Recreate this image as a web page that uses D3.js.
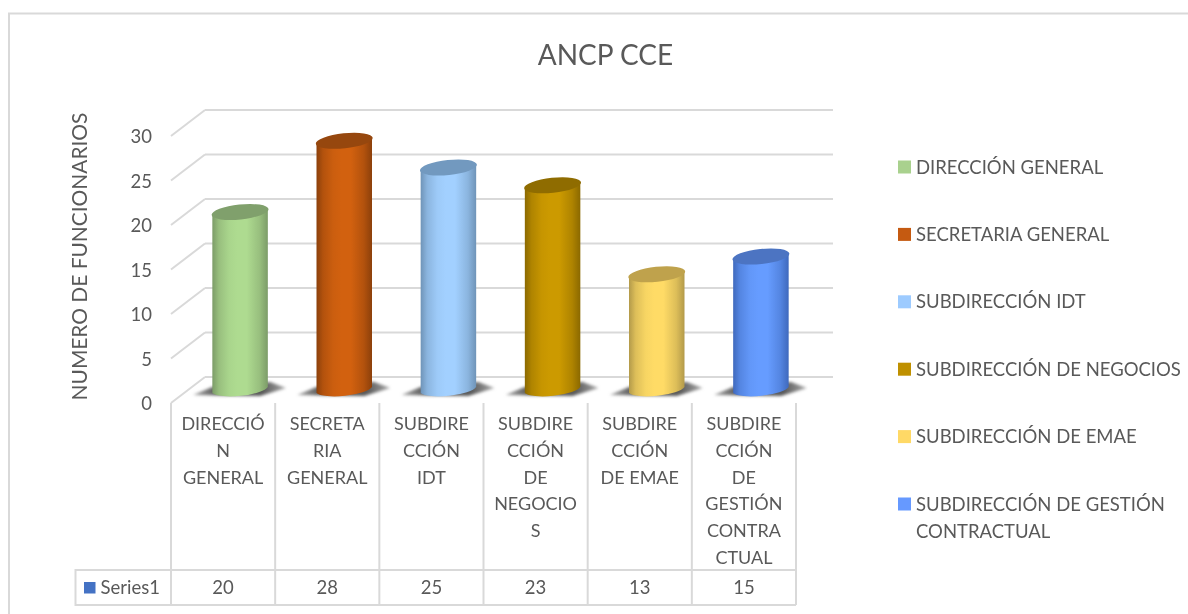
<!DOCTYPE html>
<html>
<head>
<meta charset="utf-8">
<script src="https://cdn.jsdelivr.net/npm/d3@7"></script>
<style>
  html, body { margin: 0; padding: 0; background: #fff; }
  svg { display: block; filter: blur(0.35px); }
  text { font-family: Lato, "Open Sans", sans-serif; fill: #595959; }
</style>
</head>
<body>
<div id="chart"></div>
<script>
var title = "ANCP CCE";
var yTitle = "NUMERO DE FUNCIONARIOS";
var seriesName = "Series1";
var categories = ["DIRECCIÓN GENERAL", "SECRETARIA GENERAL", "SUBDIRECCIÓN IDT", "SUBDIRECCIÓN DE NEGOCIOS", "SUBDIRECCIÓN DE EMAE", "SUBDIRECCIÓN DE GESTIÓN CONTRACTUAL"];
var values = [20, 28, 25, 23, 13, 15];
var yTicks = [0, 5, 10, 15, 20, 25, 30];

// wrapped the way the table wraps them
var axisLabels = [
  ["DIRECCIÓ", "N", "GENERAL"],
  ["SECRETA", "RIA", "GENERAL"],
  ["SUBDIRE", "CCIÓN", "IDT"],
  ["SUBDIRE", "CCIÓN", "DE", "NEGOCIO", "S"],
  ["SUBDIRE", "CCIÓN", "DE EMAE"],
  ["SUBDIRE", "CCIÓN", "DE", "GESTIÓN", "CONTRA", "CTUAL"]
];
var legendLabels = [
  ["DIRECCIÓN GENERAL"],
  ["SECRETARIA GENERAL"],
  ["SUBDIRECCIÓN IDT"],
  ["SUBDIRECCIÓN DE NEGOCIOS"],
  ["SUBDIRECCIÓN DE EMAE"],
  ["SUBDIRECCIÓN DE GESTIÓN", "CONTRACTUAL"]
];

var lightColors = ["#aedb90", "#d2610f", "#a2d0ff", "#cc9a00", "#ffdb66", "#669cff"];
var darkColors = ["#7c9c68", "#8c400b", "#6f94b8", "#8b6900", "#b39a4a", "#3f69bd"];
var topColors = ["#80a06c", "#96470e", "#7299bf", "#8f6c00", "#bfa24c", "#4c74c2"];
var legendColors = ["#a9d18e", "#c55a11", "#9dcbff", "#bf9000", "#ffd966", "#6699ff"];

var width = 1188, height = 614;
var grey = "#d9d9d9";

var svg = d3.select("#chart").append("svg")
  .attr("width", width)
  .attr("height", height);

var defs = svg.append("defs");
defs.append("filter").attr("id", "soft")
  .attr("x", "-20%").attr("y", "-50%").attr("width", "140%").attr("height", "200%")
  .append("feGaussianBlur").attr("stdDeviation", 1.5);

var shadowGrad = defs.append("linearGradient").attr("id", "shadow");
shadowGrad.append("stop").attr("offset", "0").attr("stop-color", "#a8a8a8");
shadowGrad.append("stop").attr("offset", "0.25").attr("stop-color", "#5a5a5a");
shadowGrad.append("stop").attr("offset", "0.75").attr("stop-color", "#5a5a5a");
shadowGrad.append("stop").attr("offset", "1").attr("stop-color", "#a8a8a8");

categories.forEach(function(c, i) {
  var mix = d3.interpolateRgb(darkColors[i], lightColors[i]);
  var g = defs.append("linearGradient").attr("id", "cyl" + i);
  g.append("stop").attr("offset", "0").attr("stop-color", darkColors[i]);
  g.append("stop").attr("offset", "0.12").attr("stop-color", mix(0.55));
  g.append("stop").attr("offset", "0.3").attr("stop-color", mix(0.9));
  g.append("stop").attr("offset", "0.45").attr("stop-color", lightColors[i]);
  g.append("stop").attr("offset", "0.62").attr("stop-color", lightColors[i]);
  g.append("stop").attr("offset", "0.85").attr("stop-color", mix(0.55));
  g.append("stop").attr("offset", "1").attr("stop-color", darkColors[i]);
});

// outer frame, only top and left show
svg.append("path")
  .attr("d", "M9,614V13.5H1188")
  .attr("fill", "none")
  .attr("stroke", grey)
  .attr("stroke-width", 2);

svg.append("text")
  .attr("x", 605.5).attr("y", 65)
  .attr("text-anchor", "middle")
  .attr("font-size", 28)
  .text(title);

var x = d3.scaleBand().domain(categories).range([171, 796]);
var y = d3.scaleLinear().domain([0, 30]).range([377, 110]);

var depthX = 34, depthY = 26;

// walls
var grid = svg.append("g");
grid.selectAll("line.back")
  .data(yTicks)
  .enter().append("line")
  .attr("class", "back")
  .attr("x1", 171 + depthX).attr("x2", 833)
  .attr("y1", function(d) { return y(d); })
  .attr("y2", function(d) { return y(d); })
  .attr("stroke", grey).attr("stroke-width", 2);
grid.selectAll("line.side")
  .data(yTicks)
  .enter().append("line")
  .attr("class", "side")
  .attr("x1", 171).attr("x2", 171 + depthX)
  .attr("y1", function(d) { return y(d) + depthY; })
  .attr("y2", function(d) { return y(d); })
  .attr("stroke", grey).attr("stroke-width", 2);

// y axis
var yAxis = svg.append("g")
  .attr("transform", "translate(152,27)")
  .call(d3.axisLeft(y).tickValues(yTicks).tickSize(0).tickPadding(0));
yAxis.select(".domain").remove();
yAxis.selectAll("text").attr("font-size", 18.5).style("font-family", "Lato");

svg.append("text")
  .attr("transform", "translate(87,256.5) rotate(-90)")
  .attr("text-anchor", "middle")
  .attr("font-size", 20.9)
  .text(yTitle);

// cylinders
var barW = 55.5, rx = 28.6, ry = 7.5, tilt = 3, rot = -6;
var bars = svg.selectAll("g.bar")
  .data(values)
  .enter().append("g")
  .attr("class", "bar");

bars.append("path")
  .attr("fill", "url(#shadow)")
  .attr("filter", "url(#soft)")
  .attr("d", function(d, i) {
    var cx = x(categories[i]) + x.bandwidth() / 2 + depthX / 2;
    var yb = y(0) + depthY / 2;
    return "M" + (cx - 47) + "," + (yb + 5) +
      "L" + (cx - 28) + "," + (yb - 3) +
      "L" + (cx + 30) + "," + (yb - 8) +
      "L" + (cx + 46) + "," + (yb - 2) +
      "L" + (cx + 20) + "," + (yb + 6) + "Z";
  });

bars.append("path")
  .attr("fill", function(d, i) { return "url(#cyl" + i + ")"; })
  .attr("d", function(d, i) {
    var cx = x(categories[i]) + x.bandwidth() / 2 + depthX / 2;
    var yb = y(0) + depthY / 2;
    var yt = y(d) + depthY / 2;
    var xl = cx - barW / 2, xr = cx + barW / 2;
    return "M" + xl + "," + (yt + tilt) +
      "L" + xl + "," + (yb + tilt) +
      "A" + rx + "," + ry + " " + rot + " 0 0 " + xr + "," + (yb - tilt) +
      "L" + xr + "," + (yt - tilt) +
      "A" + rx + "," + ry + " " + rot + " 0 0 " + xl + "," + (yt + tilt) + "Z";
  });

bars.append("ellipse")
  .attr("rx", rx).attr("ry", ry)
  .attr("fill", function(d, i) { return topColors[i]; })
  .attr("transform", function(d, i) {
    var cx = x(categories[i]) + x.bandwidth() / 2 + depthX / 2;
    return "translate(" + cx + "," + (y(d) + depthY / 2) + ") rotate(" + rot + ")";
  });

// data table
var tableTop = 403, rowTop = 570, rowBottom = 605, tableLeft = 75.5;
var table = svg.append("g");
var edges = [categories[0]].concat(categories);
table.selectAll("line.col")
  .data(edges)
  .enter().append("line")
  .attr("class", "col")
  .attr("x1", function(d, i) { return i == 0 ? x(d) : x(d) + x.bandwidth(); })
  .attr("x2", function(d, i) { return i == 0 ? x(d) : x(d) + x.bandwidth(); })
  .attr("y1", tableTop).attr("y2", rowBottom)
  .attr("stroke", grey).attr("stroke-width", 2);
table.append("path")
  .attr("d", "M796," + rowTop + "H" + tableLeft + "V" + rowBottom + "H796")
  .attr("fill", "none")
  .attr("stroke", grey).attr("stroke-width", 2);

table.selectAll("g.label")
  .data(axisLabels)
  .enter().append("g")
  .attr("class", "label")
  .each(function(lines, i) {
    d3.select(this).selectAll("text")
      .data(lines)
      .enter().append("text")
      .attr("x", x(categories[i]) + x.bandwidth() / 2)
      .attr("y", function(d, j) { return 430 + j * 26.8; })
      .attr("text-anchor", "middle")
      .attr("font-size", 18)
      .text(function(d) { return d; });
  });

table.selectAll("text.val")
  .data(values)
  .enter().append("text")
  .attr("class", "val")
  .attr("x", function(d, i) { return x(categories[i]) + x.bandwidth() / 2; })
  .attr("y", 594)
  .attr("text-anchor", "middle")
  .attr("font-size", 18.5)
  .text(function(d) { return d; });

table.append("rect")
  .attr("x", 84).attr("y", 582)
  .attr("width", 11.5).attr("height", 11.5)
  .attr("fill", "#4472c4");
table.append("text")
  .attr("x", 100.5).attr("y", 594)
  .attr("font-size", 18.5)
  .text(seriesName);

// legend
var legendY = d3.scalePoint().domain(categories).range([167, 504]);
var legend = svg.selectAll("g.legend")
  .data(categories)
  .enter().append("g")
  .attr("class", "legend")
  .attr("transform", function(d) { return "translate(898," + legendY(d) + ")"; });
legend.append("rect")
  .attr("y", -6.5)
  .attr("width", 13).attr("height", 13)
  .attr("fill", function(d, i) { return legendColors[i]; });
legend.each(function(d, i) {
  d3.select(this).selectAll("text")
    .data(legendLabels[i])
    .enter().append("text")
    .attr("x", 18)
    .attr("y", function(t, j) { return 6.5 + j * 27; })
    .attr("font-size", 18.5)
    .text(function(t) { return t; });
});
</script>
</body>
</html>
